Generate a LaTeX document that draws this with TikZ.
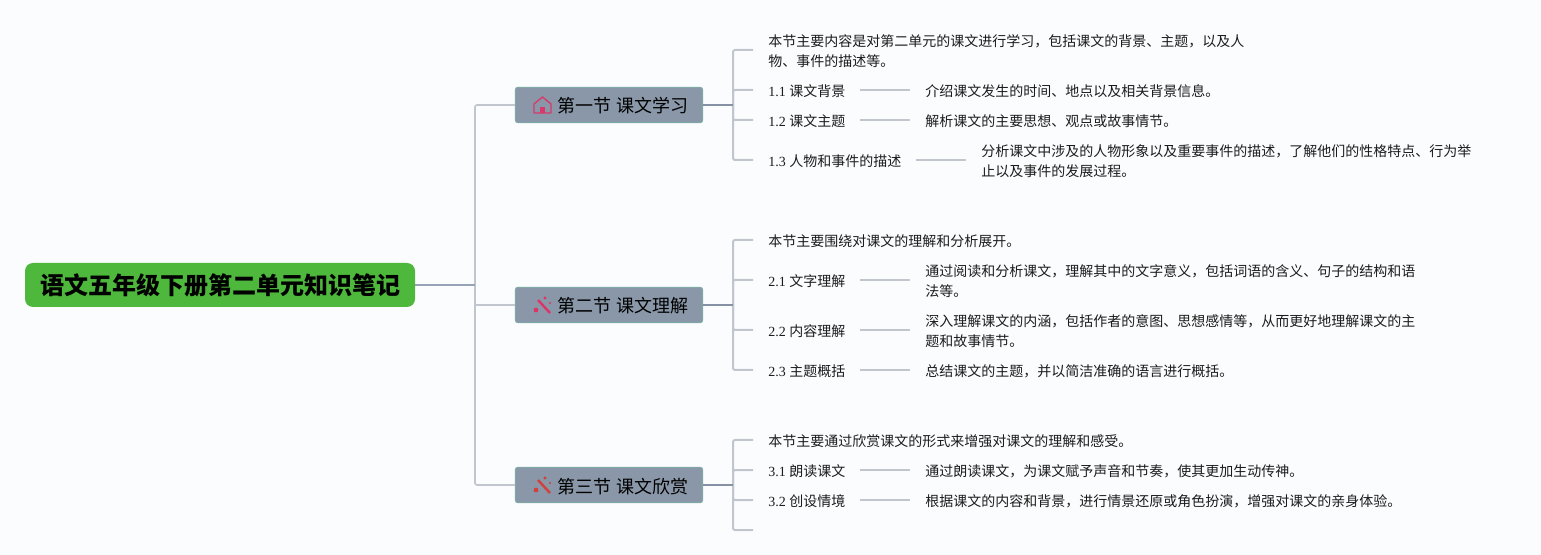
\documentclass[tikz,border=0pt]{standalone}
\usepackage{fontspec}
\setmainfont{Liberation Serif}
\newfontfamily\cjk{Noto Sans CJK SC}
\definecolor{pagebg}{HTML}{FBFCFD}
\definecolor{rootgreen}{HTML}{4DB83C}
\definecolor{secgrey}{HTML}{8997A8}
\definecolor{secedge}{HTML}{7FA8A6}
\definecolor{darkline}{HTML}{98A2B6}
\definecolor{hubline}{HTML}{8592A6}
\definecolor{softline}{HTML}{C0C5CE}
\definecolor{txt}{HTML}{1C1C1C}
\definecolor{homered}{HTML}{D8386A}
\definecolor{wandpink}{HTML}{DC3565}
\definecolor{wandred}{HTML}{D2403C}
\newcommand{\sectext}[1]{\kern21pt\raisebox{-6pt}[0pt][0pt]{#1}}
\tikzset{
  rootbox/.style={fill=rootgreen, rounded corners=6pt, minimum width=292.5pt, minimum height=33pt, inner sep=0pt, text=black, font=\cjk\bfseries\fontsize{18}{22}\selectfont},
  secbox/.style={fill=secgrey, draw=secedge, line width=0.8pt, rounded corners=2pt, minimum width=140.5pt, minimum height=26.5pt, inner sep=0pt, text=black, font=\cjk\fontsize{13.5}{16}\selectfont},
  leaf/.style={anchor=west, yshift=-0.75pt, inner sep=0pt, align=left, text=txt, font=\fontsize{10.5}{15.4}\selectfont},
  rootline/.style={darkline, line width=1.2pt},
  trunkline/.style={softline, line width=1.2pt, rounded corners=1.5pt},
  hubwire/.style={hubline, line width=1.5pt},
  stub/.style={softline, line width=1.5pt, rounded corners=1.5pt, shorten >=11.25pt},
  detailwire/.style={softline, line width=1.2pt, shorten <=10.5pt, shorten >=11.25pt},
  pics/homemark/.style={code={
    \draw[color=#1, line width=1pt, line join=round] (-8.5,8) -- (-8.5,-1) -- (0,-8) -- (8.5,-1) -- (8.5,8) -- cycle;
    \fill[color=#1] (-2.2,8) rectangle (2.2,2);
  }},
  pics/wandmark/.style={code={
    \draw[color=#1, line width=1.8pt] (-4.5,-5) -- (7.5,8);
    \fill[color=#1] (2.5,-7) circle (1.3pt);
    \fill[color=#1] (-6.5,5) circle (1.8pt);
    \fill[color=#1] (7.5,-2) circle (0.8pt);
  }},
}
\begin{document}
\begin{tikzpicture}[x=0.75pt,y=-0.75pt]
\useasboundingbox (0,0) rectangle (1541,555);
\fill[pagebg] (0,0) rectangle (1541,555);
% root and sections
\node[rootbox] (root) at (220,285) {语文五年级下册第二单元知识笔记};
\node[secbox] (sec1) at (609,105) {\sectext{第一节 课文学习}};
\node[secbox] (sec2) at (609,305) {\sectext{第二节 课文理解}};
\node[secbox] (sec3) at (609,485) {\sectext{第三节 课文欣赏}};
\pic at (542.5,105) {homemark=homered};
\pic at (542.5,305) {wandmark=wandpink};
\pic at (542.5,485) {wandmark=wandred};
\coordinate (trunk) at (475,285);
\coordinate (hub1) at (733,105);
\coordinate (hub2) at (733,305);
\coordinate (hub3) at (733,485);
% section 1
\node[leaf] (n10) at (768,50) {\cjk 本节主要内容是对第二单元的课文进行学习，包括课文的背景、主题，以及人\\\cjk 物、事件的描述等。};
\node[leaf] (n11) at (768,90) {1.1 {\cjk 课文背景}};
\node[leaf] (n12) at (768,120) {1.2 {\cjk 课文主题}};
\node[leaf] (n13) at (768,160) {1.3 {\cjk 人物和事件的描述}};
\node[leaf] (d11) at (925,90) {\cjk 介绍课文发生的时间、地点以及相关背景信息。};
\node[leaf] (d12) at (925,120) {\cjk 解析课文的主要思想、观点或故事情节。};
\node[leaf] (d13) at (981,160) {\cjk 分析课文中涉及的人物形象以及重要事件的描述，了解他们的性格特点、行为举\\\cjk 止以及事件的发展过程。};
% section 2
\node[leaf] (n20) at (768,240) {\cjk 本节主要围绕对课文的理解和分析展开。};
\node[leaf] (n21) at (768,280) {2.1 {\cjk 文字理解}};
\node[leaf] (n22) at (768,330) {2.2 {\cjk 内容理解}};
\node[leaf] (n23) at (768,370) {2.3 {\cjk 主题概括}};
\node[leaf] (d21) at (925,280) {\cjk 通过阅读和分析课文，理解其中的文字意义，包括词语的含义、句子的结构和语\\\cjk 法等。};
\node[leaf] (d22) at (925,330) {\cjk 深入理解课文的内涵，包括作者的意图、思想感情等，从而更好地理解课文的主\\\cjk 题和故事情节。};
\node[leaf] (d23) at (925,370) {\cjk 总结课文的主题，并以简洁准确的语言进行概括。};
% section 3
\node[leaf] (n30) at (768,440) {\cjk 本节主要通过欣赏课文的形式来增强对课文的理解和感受。};
\node[leaf] (n31) at (768,470) {3.1 {\cjk 朗读课文}};
\node[leaf] (n32) at (768,500) {3.2 {\cjk 创设情境}};
\coordinate (n33) at (768,531);
\node[leaf] (d31) at (925,470) {\cjk 通过朗读课文，为课文赋予声音和节奏，使其更加生动传神。};
\node[leaf] (d32) at (925,500) {\cjk 根据课文的内容和背景，进行情景还原或角色扮演，增强对课文的亲身体验。};
% connectors
\foreach \s in {sec1,sec2,sec3}
  \draw[trunkline] (trunk) |- (\s.west);
\draw[rootline] (root.east) -- (trunk);
\foreach \h/\n in {hub1/n10,hub1/n11,hub1/n12,hub1/n13,hub2/n20,hub2/n21,hub2/n22,hub2/n23,hub3/n30,hub3/n31,hub3/n32,hub3/n33}
  \draw[stub] (\h) |- ([yshift=0.75pt]\n.west);
\draw[hubwire] (sec1.east) -- (hub1);
\draw[hubwire] (sec2.east) -- (hub2);
\draw[hubwire] (sec3.east) -- (hub3);
\foreach \n/\d in {n11/d11,n12/d12,n13/d13,n21/d21,n22/d22,n23/d23,n31/d31,n32/d32}
  \draw[detailwire] ([yshift=0.75pt]\n.east) -- ([yshift=0.75pt]\n.east -| \d.west);
\end{tikzpicture}
\end{document}
